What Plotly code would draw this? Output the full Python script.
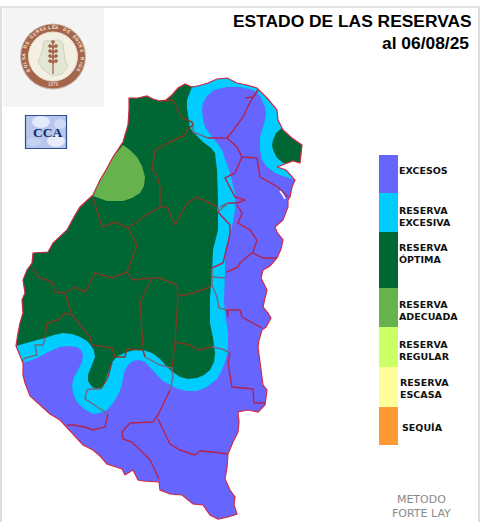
import math
import plotly.graph_objects as go

# ---- map geometry (image pixel coordinates) ----
BND_WEST = [(23,363),(16,346),(18,333),(20,323),(23,313),(22,300),(25,293),(23,280),(27,270),(32,263),(33,253),(48,252),(53,243),(63,233),(67,230),(74,217),(80,207),(93,195),(100,180),(106,170),(113,157),(123,142),(128,125),(129,110)]
BND_N1 = [(129,98),(138,98),(147,96),(153,99),(160,101),(166,100),(172,95),(178,88),(185,84),(192,87)]
BND_N2 = [(198,86),(208,83),(217,79),(227,78),(237,83),(247,85),(257,88),(262,93),(267,98),(277,110),(278,120),(283,130)]
BND_E1 = [(292,138),(302,145),(301,155),(300,163),(293,161),(287,163)]
BND_E2 = [(277,167),(286,170),(293,177),(295,180)]
BND_S = [(292,187),(290,197),(288,200),(288,207),(283,220),(275,227),(277,232),(283,240),(281,249),(277,258),(270,266),(263,270),(261,278),(267,290),(265,298),(263,307),(268,313),(271,318),(266,327),(262,330),(259,340),(258,347),(260,362),(263,385),(267,390),(265,405),(258,412),(248,410),(238,412),(239,422),(238,432),(233,442),(228,454),(227,468),(225,479),(230,490),(235,497),(234,505),(237,514),(228,517),(218,519),(210,515),(203,505),(193,504),(182,495),(170,494),(160,490),(159,482),(143,481),(138,480),(133,470),(125,475),(122,469),(107,464),(100,456),(93,450),(83,445),(75,436),(67,427),(60,420),(50,414),(40,405),(30,396),(25,383),(23,375)]

EXCESS_EDGE = [(295,180),(283,176),(275,173),(267,167),(262,160),(260,150),(260,137),(263,127),(265,120),(266,113),(265,107),(260,96),(253,90),(240,87),(227,87),(214,90),(207,96),(203,103),(202,110),(203,119),(205,127),(213,138),(218,144),(222,150),(226,161),(230,173),(235,193),(235,210),(232,227),(230,233),(225,250),(225,273),(224,300),(225,313),(228,333),(228,345),(227,354),(225,362),(221,372),(217,379),(207,387),(197,391),(187,391),(178,389),(170,385),(163,381),(157,375),(151,368),(145,362),(139,360),(133,361),(128,365),(125,370),(123,378),(122,385),(118,395),(113,403),(107,410),(100,413),(93,414),(84,409),(77,402),(73,393),(72,385),(74,377),(78,370),(82,362),(83,355),(81,350),(77,347),(68,346),(60,347),(48,352),(37,358)]
GREEN_EDGE = [(187,100),(187,108),(188,115),(190,128),(196,135),(203,142),(211,148),(215,153),(217,170),(218,200),(218,230),(213,250),(212,273),(210,297),(210,323),(213,338),(215,353),(214,362),(210,370),(204,375),(197,378),(188,379),(180,377),(170,370),(160,359),(152,353),(143,350),(135,350),(127,352),(118,356),(112,362),(109,370),(107,377),(104,384),(100,388),(96,389),(92,387),(88,381),(88,375),(91,367),(95,357),(94,351),(92,347),(87,341),(80,337),(72,334),(63,333),(54,335),(45,338),(30,342)]
GREEN_EAST = [(282,128),(276,133),(273,140),(272,145),(273,150),(277,158),(283,163),(287,163),(293,161),(300,163),(301,155),(302,145),(292,138),(283,130)]
ADEQUATE = [(123,145),(130,150),(137,157),(142,166),(145,177),(144,186),(140,193),(132,198),(123,201),(107,201),(93,196),(100,180),(106,170),(113,157)]

LINES_GREEN = [
    [(93,197),(102,227),(115,222),(128,228),(145,216),(160,207),(167,207),(175,225),(187,203),(197,197),(218,207)],
    [(160,101),(173,100),(178,110),(182,118),(192,122),(193,125),(187,130),(185,135),(170,142),(155,150),(152,170),(157,175),(160,187),(160,207)],
    [(128,228),(137,245),(127,272),(132,280),(152,278),(160,278),(177,285),(178,295),(185,295),(193,293),(207,288),(212,285)],
    [(33,267),(38,277),(52,282),(55,292),(65,293),(70,308),(72,315),(80,325),(90,337),(92,345),(112,348),(115,357),(125,357),(127,349),(143,350),(145,357)],
    [(65,293),(75,287),(85,292),(95,273),(112,278),(127,272)],
    [(72,315),(65,313),(58,320),(47,323),(45,338)],
    [(152,278),(140,302),(143,347)],
    [(178,295),(176,323),(175,343),(172,367)],
    [(175,342),(190,345),(197,350),(212,347)],
    [(112,362),(108,377),(102,387),(100,389)],
]
LINES_CYAN = [
    [(193,125),(193,132),(208,138)],
    [(45,338),(43,345),(35,345),(37,355),(25,358),(22,362)],
    [(145,357),(160,365),(172,368),(173,377),(170,390)],
    [(212,347),(222,349),(230,353)],
    [(218,207),(218,212),(228,203),(220,207)],
    [(212,268),(212,285),(217,297),(219,308),(227,310)],
    [(212,277),(225,278)],
    [(100,389),(90,389),(87,390),(85,399),(90,402),(102,410),(108,414)],
]
LINES_BLUE = [
    [(208,138),(227,138),(232,132),(243,117),(250,102),(258,90)],
    [(245,98),(253,97),(258,90)],
    [(227,138),(237,147),(242,157),(257,158),(260,177),(278,187),(288,197)],
    [(242,157),(235,173),(225,178),(235,197),(245,200),(237,203),(228,203)],
    [(218,212),(230,225),(230,233),(228,243),(223,263),(212,268)],
    [(237,205),(242,213),(238,223),(250,230),(257,240),(253,252),(240,263),(238,267),(227,272)],
    [(253,253),(263,258),(277,258)],
    [(227,310),(228,317),(228,310),(240,310),(242,317),(262,328)],
    [(230,353),(228,363),(232,387),(253,389),(254,403),(265,403)],
    [(108,414),(105,427),(93,430),(85,427),(73,425),(67,425)],
    [(170,390),(158,415),(153,422),(130,423),(122,432),(123,439),(132,442),(150,460),(159,479)],
    [(158,419),(170,444),(180,450),(195,455),(200,451),(213,452),(227,454)],
]
RIVER_SLIT = [(280,191),(283,195),(285,199)]

# ---- legend ----
LEGEND_EDGES = [155,193,232,288,327,367,407,445]
LEGEND_COLORS = ["#6666ff","#00ccff","#006633","#66b34d","#ccff66","#ffff99","#ff9933"]
LEGEND_LABELS = [("EXCESOS",170,396.5),("RESERVA<br>EXCESIVA",216,396.5),("RESERVA<br>ÓPTIMA",253,396.5),
                 ("RESERVA<br>ADECUADA",310,396.5),("RESERVA<br>REGULAR",350,396.5),("RESERVA<br>ESCASA",388,397.5),("SEQUÍA",427,400)]

TITLE_1 = "ESTADO DE LAS RESERVAS"
TITLE_2 = "al 06/08/25"
METHOD = "METODO<br>FORTE LAY"
SEAL_TEXT = "BOLSA DE CEREALES DE ENTRE RIOS"
SEAL_YEAR = "1979"
CCA_TEXT = "CCA"

OUTLINE_RED = "#d12a45"
BLUE_LINE = "#b2234f"
GREEN_LINE = "#7d3a24"
CYAN_LINE = "#6d6a80"

fig = go.Figure()

def poly(points, color, close=True):
    pts = list(points) + ([points[0]] if close else [])
    fig.add_trace(go.Scatter(x=[p[0] for p in pts], y=[p[1] for p in pts], mode="lines",
                             fill="toself" if close else None, fillcolor=color,
                             line=dict(width=0, color=color), hoverinfo="skip", showlegend=False))

def line(points, color, width=1.4):
    fig.add_trace(go.Scatter(x=[p[0] for p in points], y=[p[1] for p in points], mode="lines",
                             line=dict(width=width, color=color), hoverinfo="skip", showlegend=False))

OUTER = BND_WEST + BND_N1 + BND_N2 + BND_E1 + BND_E2 + BND_S
poly(OUTER, "#6666ff")
poly(BND_WEST + BND_N1 + BND_N2 + BND_E1 + BND_E2 + EXCESS_EDGE, "#00ccff")
poly(BND_WEST[1:] + BND_N1 + GREEN_EDGE, "#006633")
poly(GREEN_EAST, "#006633")
poly(ADEQUATE, "#66b34d")
for seg in LINES_GREEN:
    line(seg, GREEN_LINE)
for seg in LINES_CYAN:
    line(seg, CYAN_LINE)
for seg in LINES_BLUE:
    line(seg, BLUE_LINE)
line(OUTER + [OUTER[0]], OUTLINE_RED, 1.2)
line(RIVER_SLIT, "#ffffff", 1.6)
line(BND_N1[-1:] + BND_N2[:1], "#7a5a60", 1.2)

# legend blocks through a bar trace
fig.add_trace(go.Bar(x=[388]*7, y=[LEGEND_EDGES[i+1]-LEGEND_EDGES[i] for i in range(7)],
                     base=LEGEND_EDGES[:-1], width=19, marker=dict(color=LEGEND_COLORS, line=dict(width=0)),
                     hoverinfo="skip", showlegend=False))

ann = []
def text(x, y, s, size, color="#000000", family="Liberation Sans", anchor="left", angle=0):
    ann.append(dict(x=x, y=y, xref="x", yref="y", text=s, showarrow=False, xanchor=anchor, yanchor="middle",
                    align=anchor, textangle=angle, font=dict(size=size, color=color, family=family)))

text(474, 21, f"<b>{TITLE_1}</b>", 17.4, anchor="right")
text(471, 43, f"<b>{TITLE_2}</b>", 17.4, anchor="right")
for s, y, x in LEGEND_LABELS:
    text(x, y, f"<b>{s}</b>", 9.5, color="#111111", family="DejaVu Sans")
text(421.5, 506, METHOD, 11, color="#8a8a8a", family="DejaVu Sans", anchor="center")

# seal lettering
cx, cy = 53, 56.5
n = len(SEAL_TEXT)
for i, ch in enumerate(SEAL_TEXT):
    if ch == " ":
        continue
    a = -118 + 236 * i / (n - 1)
    r = 29
    text(cx + r * math.sin(math.radians(a)), cy - r * math.cos(math.radians(a)), f"<b>{ch}</b>", 4.6,
         color="#f4e6dc", anchor="center", angle=a)
text(cx, 84.5, SEAL_YEAR, 4.5, color="#f4e6dc", anchor="center")
text(47, 132, f"<b>{CCA_TEXT}</b>", 13.5, color="#0d2a6b", family="Liberation Serif", anchor="center")

shapes = []
def rect(x0, y0, x1, y1, fill, lc=None, lw=0, layer="below"):
    shapes.append(dict(type="rect", x0=x0, y0=y0, x1=x1, y1=y1, fillcolor=fill, layer=layer,
                       line=dict(color=lc or fill, width=lw)))
def circ(x, y, r, fill, lc=None, lw=0, rx=None):
    rx = r if rx is None else rx
    shapes.append(dict(type="circle", x0=x-rx, y0=y-r, x1=x+rx, y1=y+r, fillcolor=fill, layer="below",
                       line=dict(color=lc or fill, width=lw)))

rect(1, 7, 479, 530, "#ffffff", "#c8c8c8", 1.2)
rect(3, 8, 104, 107, "#f4f4f4")
circ(cx, cy, 33, "#c9b9ae")
circ(cx, cy, 32, "#a5654a")
circ(cx, cy, 24.5, "#f3efe2", "#e8dccb", 1)
# CCA tile
rect(25.5, 115.5, 66.5, 148.5, "#b6c6ec", "#2f4f8f", 1.2)
circ(41, 122, 6, "#e3eafa", rx=9)
circ(56, 141, 6, "#e6ecf9", rx=9)
circ(60, 124, 5, "#cfdaf5", rx=6)
circ(34, 142, 4, "#c6d3f2", rx=7)

fig.update_layout(
    width=482, height=522, margin=dict(l=0, r=0, t=0, b=0), paper_bgcolor="#ffffff", plot_bgcolor="#ffffff",
    xaxis=dict(range=[0, 482], visible=False, fixedrange=True),
    yaxis=dict(range=[522, 0], visible=False, fixedrange=True),
    annotations=ann, shapes=shapes, bargap=0, showlegend=False,
)

# seal interior
SILHOUETTE = [(44,41),(60,40),(63,44),(65,60),(68,66),(62,74),(52,76),(42,68),(38,62),(42,52)]
WHEAT_COLS = [50,53,56]
WHEAT_ROWS = [[46,51,56,61],[42,47,52,57,62],[46,51,56,61]]
fig.add_trace(go.Scatter(x=[p[0] for p in SILHOUETTE]+[SILHOUETTE[0][0]], y=[p[1] for p in SILHOUETTE]+[SILHOUETTE[0][1]],
                 mode="lines", fill="toself", fillcolor="#e3e6d2", line=dict(width=1, color="#cfd3bd"), hoverinfo="skip"))
fig.add_trace(go.Scatter(x=[53,53], y=[44,74], mode="lines", line=dict(color="#a5654a", width=1.3), hoverinfo="skip"))
for col, rows in zip(WHEAT_COLS, WHEAT_ROWS):
    fig.add_trace(go.Scatter(x=[col]*len(rows), y=rows, mode="markers",
                             marker=dict(size=3.5, color="#a5654a", symbol="diamond"), hoverinfo="skip"))

fig.write_html("out.html", config=dict(displayModeBar=False),
               post_script="document.body.style.margin='0';document.body.style.overflow='hidden';")
